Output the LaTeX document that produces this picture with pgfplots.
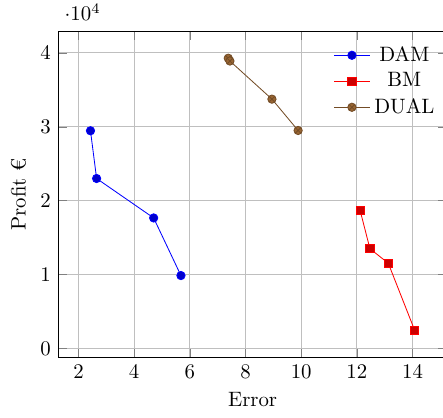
\documentclass[border=0pt]{standalone}
\usepackage{pgfplots}
\pgfplotsset{compat=1.18}

\begin{document}
\begin{tikzpicture}
    \begin{axis}[
        scale only axis,
        width=187pt,
        height=157pt,
        xlabel={Error},
        ylabel={Profit €},
        grid=major,
        legend style={draw=none, fill=none, at={(0.995,0.98)}, anchor=north east},
        legend cell align=center,
    ]

    \addplot coordinates {
      (2.43,29460) (2.65,23000) (4.70,17660) (5.68,9860)
    };
    \addlegendentry{DAM}

    \addplot coordinates {
      (12.12,18650) (12.47,13500) (13.13,11530) (14.08,2430)
    };
    \addlegendentry{BM}

    \addplot coordinates {
      (7.38,39280) (7.44,38900) (8.95,33740) (9.89,29500)
    };
    \addlegendentry{DUAL}

    \end{axis}
    \pgfresetboundingbox
    \useasboundingbox ([xshift=-27.9pt, yshift=-28.8pt]current axis.south west)
        rectangle ([xshift=-2pt, yshift=14.9pt]current axis.north east);
\end{tikzpicture}
\end{document}
